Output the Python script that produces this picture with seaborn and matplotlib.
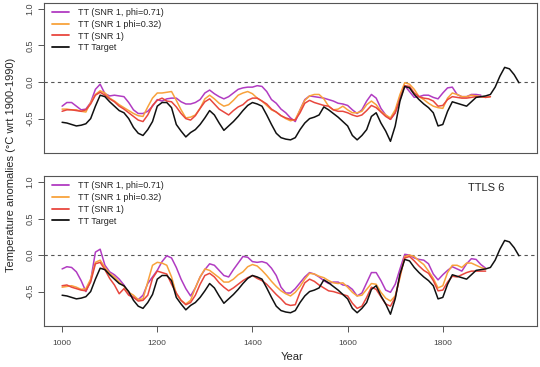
"""Two-panel reconstruction of TT target vs. SNR 1 reconstructions (TTLS 6)."""

import matplotlib
matplotlib.use("Agg")
import matplotlib.pyplot as plt
import numpy as np
import pandas as pd
import seaborn as sns

# decadal sampling, 1000-1960
YEARS = np.arange(1000, 1970, 10)

TARGET = [
    -0.55, -0.56, -0.58, -0.60, -0.59, -0.57, -0.50, -0.33, -0.18, -0.20,
    -0.27, -0.33, -0.39, -0.42, -0.50, -0.62, -0.70, -0.73, -0.65, -0.54,
    -0.33, -0.28, -0.28, -0.35, -0.58, -0.67, -0.75, -0.69, -0.65, -0.58,
    -0.49, -0.39, -0.45, -0.56, -0.66, -0.60, -0.54, -0.47, -0.39, -0.32,
    -0.28, -0.30, -0.33, -0.45, -0.58, -0.70, -0.76, -0.78, -0.79, -0.76,
    -0.65, -0.56, -0.50, -0.48, -0.45, -0.34, -0.38, -0.43, -0.48, -0.54,
    -0.60, -0.73, -0.79, -0.73, -0.65, -0.47, -0.42, -0.56, -0.67, -0.81,
    -0.60, -0.26, -0.06, -0.08, -0.17, -0.24, -0.30, -0.35, -0.42, -0.60,
    -0.58, -0.40, -0.27, -0.29, -0.31, -0.33, -0.27, -0.21, -0.20, -0.19,
    -0.17, -0.07, 0.08, 0.20, 0.18, 0.10, -0.01,
]

# upper panel
TOP_PHI071 = [
    -0.33, -0.28, -0.28, -0.33, -0.38, -0.37, -0.28, -0.10, -0.03, -0.16,
    -0.19, -0.18, -0.19, -0.20, -0.28, -0.38, -0.43, -0.43, -0.40, -0.33,
    -0.24, -0.26, -0.23, -0.22, -0.22, -0.27, -0.30, -0.30, -0.28, -0.24,
    -0.15, -0.11, -0.16, -0.20, -0.23, -0.20, -0.15, -0.10, -0.08, -0.07,
    -0.07, -0.05, -0.06, -0.13, -0.24, -0.29, -0.37, -0.42, -0.49, -0.54,
    -0.38, -0.24, -0.19, -0.20, -0.21, -0.22, -0.24, -0.26, -0.29, -0.30,
    -0.32, -0.38, -0.43, -0.38, -0.26, -0.17, -0.22, -0.36, -0.45, -0.51,
    -0.42, -0.20, -0.05, -0.13, -0.21, -0.20, -0.18, -0.18, -0.21, -0.23,
    -0.15, -0.08, -0.07, -0.17, -0.20, -0.20, -0.17, -0.17, -0.18,
]
TOP_PHI032 = [
    -0.37, -0.37, -0.38, -0.38, -0.40, -0.41, -0.28, -0.17, -0.12, -0.15,
    -0.22, -0.26, -0.31, -0.35, -0.39, -0.43, -0.46, -0.47, -0.34, -0.22,
    -0.15, -0.15, -0.14, -0.13, -0.25, -0.38, -0.49, -0.48, -0.45, -0.36,
    -0.23, -0.18, -0.23, -0.29, -0.33, -0.31, -0.25, -0.18, -0.15, -0.13,
    -0.16, -0.22, -0.26, -0.32, -0.38, -0.41, -0.46, -0.50, -0.53, -0.51,
    -0.38, -0.25, -0.19, -0.17, -0.17, -0.23, -0.33, -0.38, -0.37, -0.33,
    -0.38, -0.42, -0.42, -0.40, -0.31, -0.26, -0.31, -0.40, -0.45, -0.49,
    -0.38, -0.17, -0.01, -0.03, -0.10, -0.20, -0.24, -0.29, -0.33, -0.35,
    -0.36, -0.22, -0.15, -0.17, -0.20, -0.20, -0.18, -0.19, -0.20, -0.21,
    -0.20,
]
TOP_SNR1 = [
    -0.40, -0.38, -0.38, -0.39, -0.40, -0.38, -0.30, -0.18, -0.14, -0.18,
    -0.23, -0.27, -0.33, -0.37, -0.42, -0.47, -0.52, -0.54, -0.45, -0.32,
    -0.25, -0.22, -0.26, -0.27, -0.34, -0.43, -0.50, -0.52, -0.46, -0.36,
    -0.27, -0.23, -0.30, -0.37, -0.41, -0.45, -0.39, -0.34, -0.31, -0.25,
    -0.22, -0.22, -0.26, -0.30, -0.37, -0.41, -0.46, -0.49, -0.51, -0.52,
    -0.42, -0.29, -0.25, -0.28, -0.30, -0.32, -0.33, -0.38, -0.40, -0.40,
    -0.42, -0.45, -0.47, -0.45, -0.39, -0.32, -0.35, -0.41, -0.47, -0.51,
    -0.42, -0.24, -0.05, -0.06, -0.15, -0.20, -0.22, -0.23, -0.26, -0.33,
    -0.32, -0.24, -0.20, -0.21, -0.22, -0.22, -0.21, -0.20, -0.20, -0.21,
    -0.20,
]

# lower panel (TTLS 6)
BOT_PHI071 = [
    -0.19, -0.16, -0.17, -0.23, -0.35, -0.50, -0.35, 0.04, 0.08, -0.14,
    -0.23, -0.27, -0.33, -0.41, -0.52, -0.58, -0.61, -0.55, -0.39, -0.30,
    -0.21, -0.09, -0.01, -0.04, -0.17, -0.33, -0.46, -0.56, -0.45, -0.30,
    -0.20, -0.12, -0.14, -0.21, -0.28, -0.30, -0.20, -0.11, -0.02, -0.03,
    -0.09, -0.10, -0.09, -0.11, -0.18, -0.28, -0.44, -0.52, -0.52, -0.46,
    -0.38, -0.30, -0.24, -0.26, -0.30, -0.35, -0.39, -0.37, -0.37, -0.41,
    -0.42, -0.47, -0.56, -0.52, -0.38, -0.24, -0.24, -0.35, -0.48, -0.51,
    -0.40, -0.19, 0.01, 0.00, -0.04, -0.06, -0.07, -0.12, -0.26, -0.34,
    -0.27, -0.21, -0.16, -0.19, -0.22, -0.12, -0.05, -0.06, -0.13, -0.18,
]
BOT_PHI032 = [
    -0.44, -0.43, -0.42, -0.44, -0.47, -0.46, -0.33, -0.10, -0.07, -0.17,
    -0.25, -0.30, -0.37, -0.43, -0.51, -0.55, -0.61, -0.60, -0.37, -0.14,
    -0.10, -0.11, -0.14, -0.30, -0.53, -0.62, -0.67, -0.62, -0.45, -0.30,
    -0.19, -0.21, -0.26, -0.31, -0.37, -0.37, -0.33, -0.27, -0.23, -0.16,
    -0.13, -0.15, -0.21, -0.28, -0.36, -0.43, -0.49, -0.53, -0.56, -0.51,
    -0.43, -0.33, -0.25, -0.26, -0.29, -0.31, -0.35, -0.38, -0.39, -0.38,
    -0.44, -0.51, -0.56, -0.55, -0.47, -0.39, -0.40, -0.51, -0.59, -0.63,
    -0.56, -0.31, -0.02, 0.00, -0.02, -0.08, -0.13, -0.22, -0.32, -0.45,
    -0.42, -0.24, -0.14, -0.14, -0.17, -0.11, -0.11, -0.14, -0.17, -0.19,
]
BOT_SNR1 = [
    -0.42, -0.41, -0.44, -0.46, -0.48, -0.49, -0.37, -0.12, -0.10, -0.20,
    -0.32, -0.41, -0.53, -0.46, -0.55, -0.58, -0.63, -0.62, -0.55, -0.32,
    -0.22, -0.24, -0.26, -0.40, -0.52, -0.62, -0.68, -0.65, -0.55, -0.40,
    -0.28, -0.25, -0.30, -0.38, -0.44, -0.49, -0.45, -0.40, -0.35, -0.31,
    -0.28, -0.32, -0.35, -0.40, -0.47, -0.54, -0.60, -0.67, -0.69, -0.68,
    -0.51, -0.38, -0.33, -0.36, -0.41, -0.45, -0.49, -0.50, -0.52, -0.54,
    -0.56, -0.66, -0.73, -0.70, -0.58, -0.44, -0.47, -0.57, -0.67, -0.70,
    -0.58, -0.28, -0.04, -0.02, -0.08, -0.15, -0.21, -0.25, -0.35, -0.49,
    -0.48, -0.37, -0.29, -0.30, -0.27, -0.24, -0.22, -0.22, -0.22, -0.22,
]

LABELS = ["TT (SNR 1, phi=0.71)", "TT (SNR 1 phi=0.32)", "TT (SNR 1)", "TT Target"]
COLORS = ["#b13cc2", "#f8a23c", "#e8473e", "#111111"]


def draw_panel(ax, series):
    for vals, label, color in zip(series, LABELS, COLORS):
        df = pd.DataFrame({"Year": YEARS[:len(vals)], "Anomaly": vals})
        sns.lineplot(data=df, x="Year", y="Anomaly", color=color, label=label,
                     linewidth=1.1, ax=ax)
    ax.axhline(0, color="#555555", lw=0.8, ls=(0, (3, 3)), zorder=0)
    ax.set_xlim(962, 1998)
    ax.set_ylim(-0.97, 1.08)
    ax.set_xlabel("")
    ax.set_ylabel("")
    ax.set_yticks([-0.5, 0.0, 0.5, 1.0])
    ax.set_yticklabels(["-0.5", "0.0", "0.5", "1.0"], rotation=90, va="center")
    ax.tick_params(axis="y", left=True, length=4, width=0.7, pad=3,
                   labelsize=6.5, color="#555555", labelcolor="#444444")
    for sp in ax.spines.values():
        sp.set_color("#555555")
        sp.set_linewidth(0.8)
    leg = ax.legend(loc="upper left", bbox_to_anchor=(0.016, 0.965), frameon=False,
                    fontsize=6.5, handlelength=1.9, handletextpad=1.0,
                    labelspacing=0.3, borderpad=0, borderaxespad=0)
    for line in leg.get_lines():
        line.set_linewidth(1.3)


def main() -> None:
    sns.set_style("white")
    plt.rcParams["font.family"] = ["Liberation Sans", "DejaVu Sans"]

    fig = plt.figure(figsize=(5.4, 3.67), dpi=100)
    ax_top = fig.add_axes([0.0815, 0.583, 0.913, 0.409])
    ax_bot = fig.add_axes([0.0815, 0.112, 0.913, 0.408])

    draw_panel(ax_top, [TOP_PHI071, TOP_PHI032, TOP_SNR1, TARGET])
    draw_panel(ax_bot, [BOT_PHI071, BOT_PHI032, BOT_SNR1, TARGET])

    ax_top.tick_params(axis="x", bottom=False, labelbottom=False)
    ax_bot.set_xticks([1000, 1200, 1400, 1600, 1800])
    ax_bot.tick_params(axis="x", bottom=True, length=4, width=0.7, pad=6,
                       labelsize=6, color="#555555", labelcolor="#444444")

    ax_bot.text(0.897, 0.922, "TTLS 6", transform=ax_bot.transAxes,
                ha="center", va="center", fontsize=8)

    fig.text(0.021, 0.55, "Temperature anomalies (°C wrt 1900-1990)", rotation=90,
             ha="center", va="center", fontsize=8)
    fig.text(0.54, 0.027, "Year", ha="center", va="center", fontsize=8)

    fig.savefig("out.png", dpi=100)
    plt.close(fig)


if __name__ == "__main__":
    main()
